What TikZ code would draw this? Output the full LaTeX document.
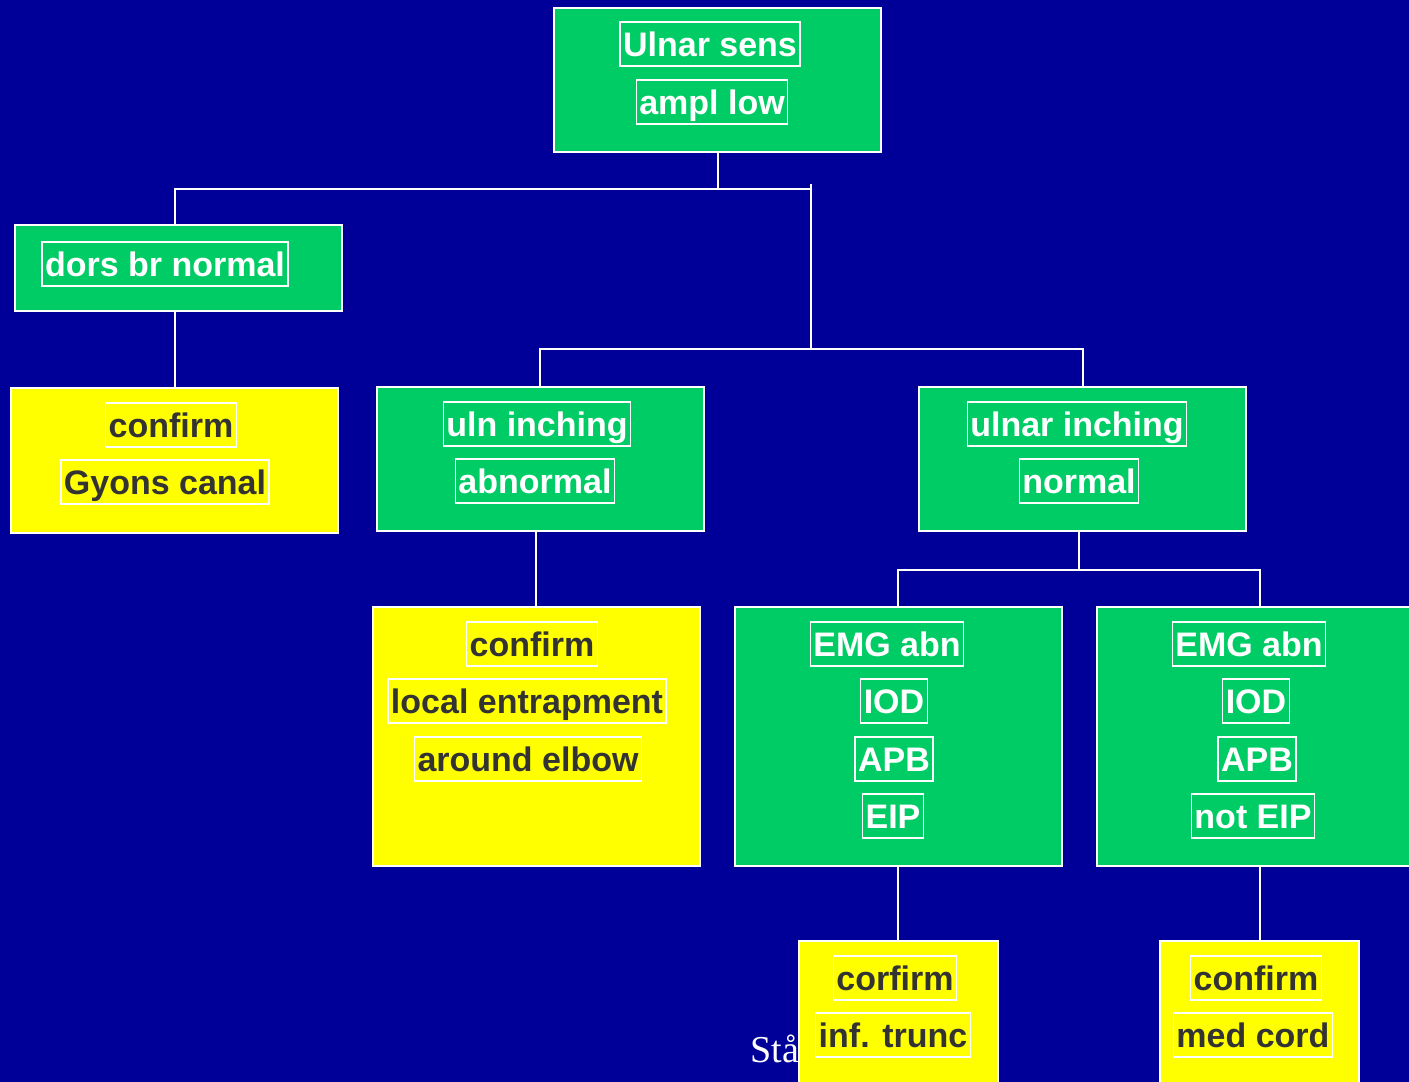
\documentclass[tikz,border=0pt]{standalone}
\usepackage{fontspec}
\setmainfont{Liberation Sans}
\newfontfamily\footfont{Liberation Serif}
\begin{document}
\begin{tikzpicture}[x=.5pt,y=-.5pt,font=\fontsize{17}{20}\selectfont\bfseries,
  box/.style={draw=white,line width=1pt,minimum width=163.5pt,inner sep=0pt},
  gbox/.style={box,fill=slidegreen},
  ybox/.style={box,fill=slideyellow},
  word/.style={draw=white,line width=.7pt,inner xsep=1.5pt,inner ysep=1.5pt,
    text height=15.5pt,text depth=3.5pt},
  wword/.style={word,text=white},
  dword/.style={word,text=darktext},
  link/.style={draw=white,line width=1pt}]
\definecolor{slideblue}{RGB}{0,0,153}
\definecolor{slidegreen}{RGB}{0,204,102}
\definecolor{slideyellow}{RGB}{255,255,0}
\definecolor{darktext}{RGB}{51,51,51}
\useasboundingbox (0,0) rectangle (1409,1082);
\clip (0,0) rectangle (1409,1082);
\fill[slideblue] (0,0) rectangle (1409,1082);
% footer text, partly hidden behind the box
\node[anchor=base west,inner sep=0pt,text=white,font=\footfont\fontsize{19}{22}\selectfont] (foot) at (750,1062) {Stå};
% boxes
\node[gbox,minimum height=72pt] (top) at (717.5,80) {};
\node[gbox,minimum height=43pt] (dors) at (178.5,268) {};
\node[ybox,minimum height=72.5pt] (gyons) at (174.5,460.5) {};
\node[gbox,minimum height=72pt] (uln) at (540,459) {};
\node[gbox,minimum height=72pt] (ulnar) at (1082.5,459) {};
\node[ybox,minimum height=129.5pt] (local) at (536,736.5) {};
\node[gbox,minimum height=129.5pt] (emgl) at (898,736.5) {};
\node[gbox,minimum height=129.5pt] (emgr) at (1260,736.5) {};
\node[ybox,minimum width=99.5pt,minimum height=74pt] (trunc) at (898,1015) {};
\node[ybox,minimum width=99.5pt,minimum height=74pt] (cord) at (1259.5,1015) {};
% text lines
\node[wword] (top1) at (710,44) {Ulnar sens};
\node[wword] (top2) at (712,102) {ampl low};
\node[wword] (dors1) at (165,264) {dors br normal};
\node[dword] (gyons1) at (171,425) {confirm};
\node[dword] (gyons2) at (165,482) {Gyons canal};
\node[wword] (uln1) at (537,424) {uln inching};
\node[wword] (uln2) at (535,481) {abnormal};
\node[wword] (ulnar1) at (1077,424) {ulnar inching};
\node[wword] (ulnar2) at (1079,481) {normal};
\node[dword] (local1) at (532,644) {confirm};
\node[dword] (local2) at (527,701) {local entrapment};
\node[dword] (local3) at (528,759) {around elbow};
\node[wword] (emgl1) at (887,644) {EMG abn};
\node[wword] (emgl2) at (894,701) {IOD};
\node[wword] (emgl3) at (894,759) {APB};
\node[wword] (emgl4) at (893,816) {EIP};
\node[wword] (emgr1) at (1249,644) {EMG abn};
\node[wword] (emgr2) at (1256,701) {IOD};
\node[wword] (emgr3) at (1257,759) {APB};
\node[wword] (emgr4) at (1253,816) {not EIP};
\node[dword] (trunc1) at (895,978) {corfirm};
\node[dword] (trunc2) at (893,1035) {inf. trunc};
\node[dword] (cord1) at (1256,978) {confirm};
\node[dword] (cord2) at (1253,1035) {med cord};
% connectors
\coordinate (j0) at (175,189);
\coordinate (j1) at (811,189);
\coordinate (j1top) at (811,184);
\coordinate (j2) at (811,349);
\coordinate (j3) at (1079,570);
\draw[link] (top) -- (top |- j1);
\draw[link] (j0 |- dors.north) -- (j0) -- (j1);
\draw[link] (j1top) -- (j2);
\draw[link] (uln) |- (j2) -| (ulnar);
\draw[link] (gyons) -- (gyons |- dors.south);
\draw[link] (local) -- (local |- uln.south);
\draw[link] (j3 |- ulnar.south) -- (j3);
\draw[link] (emgl) |- (j3) -| (emgr);
\draw[link] (emgl) -- (trunc);
\draw[link] (cord) -- (cord |- emgr.south);
\end{tikzpicture}
\end{document}
